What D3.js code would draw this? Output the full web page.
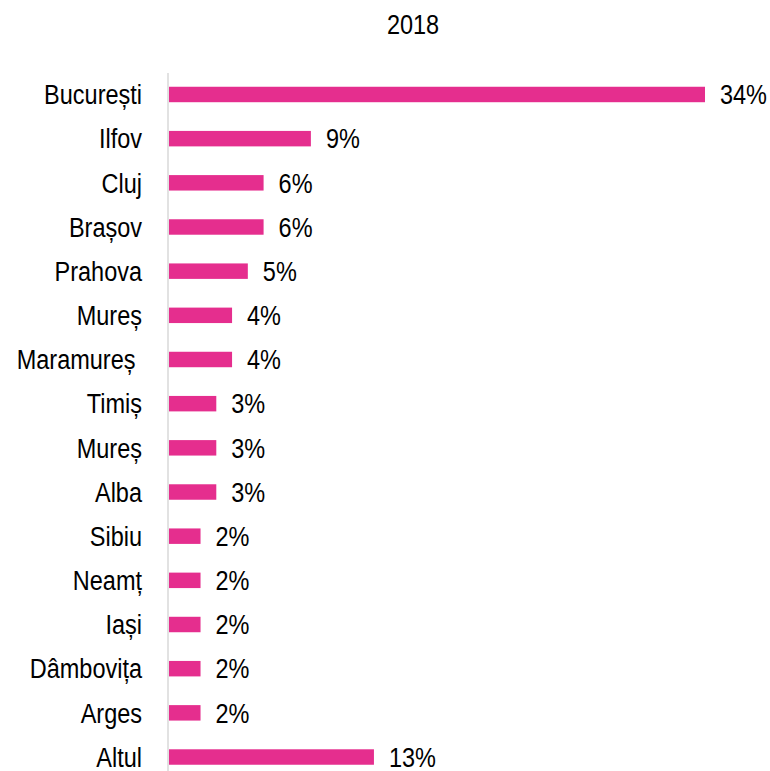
<!DOCTYPE html>
<html>
<head>
<meta charset="utf-8">
<script src="https://cdn.jsdelivr.net/npm/d3@7"></script>
<style>
	body { margin: 0; background: #fff; }
	text { font-family: "Liberation Sans", Arial, sans-serif; fill: #000; }
</style>
</head>
<body>
<svg id="svgChart" width="770" height="771"></svg>
<script>
// Chart data
var title = "2018";
var regions = ["București", "Ilfov", "Cluj", "Brașov", "Prahova", "Mureș", "Maramureș\u00a0", "Timiș", "Mureș ", "Alba", "Sibiu", "Neamț", "Iași", "Dâmbovița", "Arges", "Altul"];
var shares = [34, 9, 6, 6, 5, 4, 4, 3, 3, 3, 2, 2, 2, 2, 2, 13];

// Narrow look: regular font squeezed horizontally
var cfg = { "width": 770, "height": 771, "color": "#e52e8e", "fontSize": 27, "squeeze": 0.87 };

// Draw chart
var drawChart = () => {
	let svg = d3.select("#svgChart");

	let x = d3.scaleLinear()
		.domain([0, 34])
		.range([169, 705]);

	let y = d3.scaleBand()
		.domain(d3.range(regions.length))
		.range([72.4, 779.1])
		.paddingInner(0.65)
		.paddingOuter(0.325);

	let place = (tx, ty) => "translate(" + tx + "," + ty + ") scale(" + cfg.squeeze + ",1)";

	// Title
	svg.append("text")
		.attr("transform", place(413, 34))
		.style("text-anchor", "middle")
		.style("font-size", cfg.fontSize + "px")
		.text(title);

	// Bars
	svg.selectAll(".bar")
		.data(shares)
		.enter()
		.append("rect")
		.attr("class", "bar")
		.attr("x", x(0))
		.attr("y", (d, i) => y(i))
		.attr("width", (d) => x(d) - x(0))
		.attr("height", y.bandwidth())
		.attr("fill", cfg.color);

	// Axis line
	svg.append("line")
		.attr("x1", 168).attr("x2", 168)
		.attr("y1", 73).attr("y2", cfg.height)
		.attr("stroke", "#d9d9d9")
		.attr("stroke-width", 1.5);

	// Category labels
	svg.selectAll(".cat")
		.data(regions)
		.enter()
		.append("text")
		.attr("class", "cat")
		.attr("transform", (d, i) => place(142, y(i) + y.bandwidth() / 2))
		.attr("dy", "0.36em")
		.style("text-anchor", "end")
		.style("font-size", cfg.fontSize + "px")
		.text((d) => d);

	// Value labels
	svg.selectAll(".val")
		.data(shares)
		.enter()
		.append("text")
		.attr("class", "val")
		.attr("transform", (d, i) => place(x(d) + 15, y(i) + y.bandwidth() / 2))
		.attr("dy", "0.36em")
		.style("font-size", cfg.fontSize + "px")
		.text((d) => d + "%");
}

drawChart();
</script>
</body>
</html>
